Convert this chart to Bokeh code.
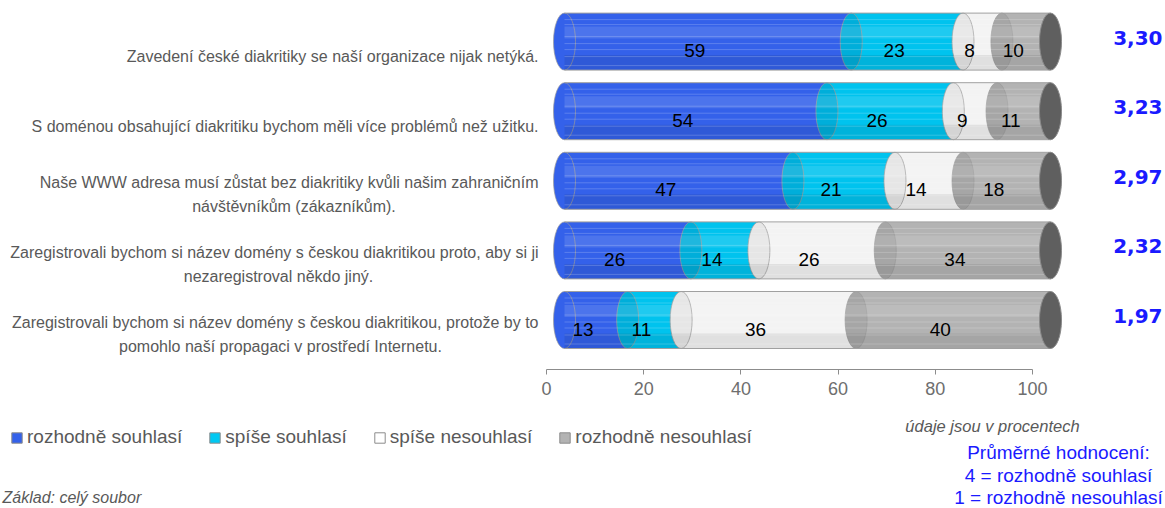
from bokeh.plotting import figure
from bokeh.layouts import column
from bokeh.models import (Range1d, LinearAxis, FixedTicker, Legend,
                          LegendItem, ColumnDataSource)
from bokeh.core.properties import value
from bokeh.embed import file_html
from bokeh.resources import INLINE

# ---------------- data ----------------
statement_line1 = [
    "Zavedení české diakritiky se naší organizace nijak netýká.",
    "S doménou obsahující diakritiku bychom měli více problémů než užitku.",
    "Naše WWW adresa musí zůstat bez diakritiky kvůli našim zahraničním",
    "Zaregistrovali bychom si název domény s českou diakritikou proto, aby si ji",
    "Zaregistrovali bychom si název domény s českou diakritikou, protože by to",
]
statement_line2 = [
    "",
    "",
    "návštěvníkům (zákazníkům).",
    "nezaregistroval někdo jiný.",
    "pomohlo naší propagaci v prostředí Internetu.",
]
series_names = ["rozhodně souhlasí", "spíše souhlasí", "spíše nesouhlasí", "rozhodně nesouhlasí"]
rozhodne_souhlasi = [59, 54, 47, 26, 13]
spise_souhlasi = [23, 26, 21, 14, 11]
spise_nesouhlasi = [8, 9, 14, 26, 36]
rozhodne_nesouhlasi = [10, 11, 18, 34, 40]
prumerne_hodnoceni = ["3,30", "3,23", "2,97", "2,32", "1,97"]
tick_values = [0, 20, 40, 60, 80, 100]
tick_labels = ["0", "20", "40", "60", "80", "100"]
note_units = "údaje jsou v procentech"
note_scale = ["Průměrné hodnocení:", "4 = rozhodně souhlasí", "1 = rozhodně nesouhlasí"]
note_base = "Základ: celý soubor"

# ---------------- style / layout ----------------
W = 1165
H_TOP, H_BOT = 410, 98
AXIS_Y = 369                    # canvas y of the axis line
PX0, PX100 = 546, 1032          # canvas x of axis 0 and 100
PXU = (PX100 - PX0) / 100.0     # px per percent
PXY = 69.6                      # px per row
CY0 = 319.5                     # canvas y of the bottom row (cylinder centre)
DX = 18 / PXU                   # 3-D depth offset of cylinders (x)
HH = 57 / PXY                   # cylinder height (data units)
ELL_W = 22                      # cylinder end ellipse width (px)

body_colors = ["#3461EA", "#00C3EE", "#F3F3F3", "#B3B3B3"]
end_colors = ["#2E58DA", "#00AEDA", "#E6E6E6", "#A6A6A6"]
legend_colors = ["#3461EA", "#00C8F2", "#FFFFFF", "#B3B3B3"]
GREY_TXT = "#595959"
BLUE_TXT = "#1a1aff"
FONT = "Liberation Sans"


def dx(px):
    return (px - PX0) / PXU


n = len(statement_line1)
rows = [n - 1 - i for i in range(n)]           # top row has highest y
series = [rozhodne_souhlasi, spise_souhlasi, spise_nesouhlasi, rozhodne_nesouhlasi]

p = figure(width=W, height=H_TOP,
           x_range=Range1d(-PX0 / PXU, (W - PX0) / PXU),
           y_range=Range1d(-(AXIS_Y - CY0) / PXY, CY0 / PXY),
           x_axis_location=None, y_axis_location=None,
           output_backend="svg", toolbar_location=None,
           min_border=0, min_border_bottom=H_TOP - AXIS_Y,
           outline_line_color=None,
           background_fill_color="white", border_fill_color="white")
p.grid.grid_line_color = None

# ---------------- cylinders ----------------
starts = [[0] * n]
for s in series[:-1]:
    starts.append([a + b for a, b in zip(starts[-1], s)])

for k, s in enumerate(series):
    left = [a + DX for a in starts[k]]
    right = [a + v + DX for a, v in zip(starts[k], s)]
    src = ColumnDataSource(dict(x=[(l + r) / 2 for l, r in zip(left, right)],
                                w=[r - l for l, r in zip(left, right)],
                                y=rows))
    p.rect(x="x", y="y", width="w", height=HH, source=src,
           fill_color=body_colors[k], line_color=None)

for k, s in enumerate(series):
    src = ColumnDataSource(dict(x=[a + DX for a in starts[k]], y=rows))
    p.ellipse(x="x", y="y", width=ELL_W, width_units="screen", height=HH, source=src,
              fill_color=end_colors[k] if k else body_colors[k],
              line_color="#9a9a9a", line_width=1, line_alpha=0.7)

# shading bands across the whole cylinders
full_x = [50 + DX] * n
p.rect(x=full_x, y=[r + 9 / PXY for r in rows], width=100, height=12 / PXY,
       fill_color="white", fill_alpha=0.12, line_color=None)
p.rect(x=full_x, y=[r - 21 / PXY for r in rows], width=100, height=15 / PXY,
       fill_color="black", fill_alpha=0.08, line_color=None)
for off in [-22, -17, -5, 2, 8, 15, 24]:
    p.segment(x0=[DX] * n, x1=[100 + DX] * n,
              y0=[r - off / PXY for r in rows], y1=[r - off / PXY for r in rows],
              line_color="white", line_alpha=0.2, line_width=1)

# outlines
for sgn in (1, -1):
    p.segment(x0=[DX] * n, x1=[100 + DX] * n,
              y0=[r + sgn * HH / 2 for r in rows], y1=[r + sgn * HH / 2 for r in rows],
              line_color="#a0a0a0", line_width=1)

# right end cap
p.ellipse(x=[100 + DX] * n, y=rows, width=ELL_W, width_units="screen", height=HH,
          fill_color="#5f5f5f", line_color="#8a8a8a", line_width=1)

# ---------------- value labels ----------------
for k, s in enumerate(series):
    mids = [a + v / 2 for a, v in zip(starts[k], s)]
    p.text(x=mids, y=rows, text=[str(v) for v in s], x_offset=5, y_offset=9,
           text_align="center", text_baseline="middle",
           text_font=value(FONT), text_font_size="19px", text_color="black")

# average score
p.text(x=[dx(1162)] * n, y=rows, text=prumerne_hodnoceni, y_offset=-4,
       text_align="right", text_baseline="middle",
       text_font=value("DejaVu Sans"), text_font_style="bold",
       text_font_size="20px", text_color=BLUE_TXT)

# ---------------- category labels ----------------
single = [i for i in range(n) if not statement_line2[i]]
double = [i for i in range(n) if statement_line2[i]]
line2_center_px = {2: 293.5, 3: 278, 4: 280}
p.text(x=[dx(538)] * len(single), y=[rows[i] for i in single],
       text=[statement_line1[i] for i in single], y_offset=15,
       text_align="right", text_baseline="middle",
       text_font=value(FONT), text_font_size="16px", text_color=GREY_TXT)
p.text(x=[dx(538)] * len(double), y=[rows[i] for i in double],
       text=[statement_line1[i] for i in double], y_offset=2,
       text_align="right", text_baseline="middle",
       text_font=value(FONT), text_font_size="16px", text_color=GREY_TXT)
p.text(x=[dx(line2_center_px[i]) for i in double], y=[rows[i] for i in double],
       text=[statement_line2[i] for i in double], y_offset=26,
       text_align="center", text_baseline="middle",
       text_font=value(FONT), text_font_size="16px", text_color=GREY_TXT)

# ---------------- axis ----------------
axis = LinearAxis(ticker=FixedTicker(ticks=tick_values), bounds=(0, 100),
                  major_label_overrides={v: t for v, t in zip(tick_values, tick_labels)})
axis.axis_line_color = "#8c8c8c"
axis.major_tick_line_color = "#8c8c8c"
axis.major_tick_out = 5
axis.major_tick_in = 0
axis.minor_tick_line_color = None
axis.major_label_text_font = FONT
axis.major_label_text_font_size = "18px"
axis.major_label_text_color = "#6e6e6e"
axis.major_label_standoff = 7
p.add_layout(axis, "below")

# ---------------- bottom strip: legend and notes ----------------
y_top = H_TOP
y_bot = H_TOP + H_BOT
q = figure(width=W, height=H_BOT,
           x_range=Range1d(0, W), y_range=Range1d(y_bot, y_top),
           x_axis_location=None, y_axis_location=None,
           output_backend="svg", toolbar_location=None,
           min_border=0, outline_line_color=None,
           background_fill_color="white", border_fill_color="white")
q.grid.grid_line_color = None

items = []
for name, c in zip(series_names, legend_colors):
    # legend proxy glyph, kept outside the visible range
    r = q.rect(x=[-100], y=[y_top], width=1, height=1,
               fill_color=c, line_color="#8c8c8c")
    items.append(LegendItem(label=name, renderers=[r]))
legend = Legend(items=items, orientation="horizontal", location=(10, y_bot - 448),
                glyph_width=13, glyph_height=13, label_standoff=4, spacing=26,
                padding=0, margin=0, border_line_color=None, background_fill_alpha=0,
                label_text_font=FONT, label_text_font_size="19px",
                label_text_color=GREY_TXT, label_height=20)
q.add_layout(legend)

q.text(x=[992], y=[425], text=[note_units], text_align="center", text_baseline="middle",
       text_font=value(FONT), text_font_style="italic", text_font_size="16.5px",
       text_color=GREY_TXT)
q.text(x=[1058] * 3, y=[452, 475, 497], text=note_scale, text_align="center",
       text_baseline="middle", text_font=value(FONT), text_font_size="19px",
       text_color=BLUE_TXT)
q.text(x=[2], y=[505], text=[note_base], text_align="left", text_baseline="bottom",
       text_font=value(FONT), text_font_style="italic", text_font_size="16px",
       text_color=GREY_TXT)

layout = column(p, q, spacing=0)
open("out.html", "w").write(file_html(layout, INLINE))
